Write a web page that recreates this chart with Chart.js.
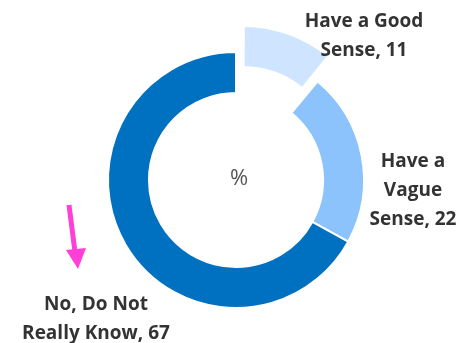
<!DOCTYPE html>
<html>
<head>
<meta charset="utf-8">
<script src="https://cdn.jsdelivr.net/npm/chart.js@4.4.1/dist/chart.umd.min.js"></script>
<style>
  html, body { margin: 0; padding: 0; background: #fff; }
  #wrap { width: 458px; height: 343px; }
</style>
</head>
<body>
<div id="wrap"><canvas id="donutChart"></canvas></div>
<script>
const categories = ["Have a Good Sense", "Have a Vague Sense", "No, Do Not Really Know"];
const values = [11, 22, 67];
const labelLines = [["Have a Good", "Sense, 11"], ["Have a", "Vague", "Sense, 22"], ["No, Do Not", "Really Know, 67"]];
const colors = ["#cfe5ff", "#8dc3fc", "#0070c0"];

/* label anchors (center of text block) */
const labelPos = [[364, 22], [413, 162], [96, 305]];

const labelsPlugin = {
    id: "outsideLabels",
    afterDraw(chart) {
        const ctx = chart.ctx;
        const meta = chart.getDatasetMeta(0);
        const c = meta.data[0];
        ctx.save();
        // center text
        ctx.fillStyle = "#555";
        ctx.font = "22px 'Open Sans', sans-serif";
        ctx.textAlign = "center";
        ctx.textBaseline = "middle";
        ctx.fillText("%", c.x + 3, c.y - 1);

        // slice labels
        ctx.fillStyle = "#333";
        ctx.font = "bold 19px 'Open Sans', sans-serif";
        labelLines.forEach((lines, i) => {
            const [x, y] = labelPos[i];
            lines.forEach((t, j) => ctx.fillText(t, x, y + j * 29));
        });

        // pink arrow
        ctx.strokeStyle = "#ff3fd8";
        ctx.fillStyle = "#ff3fd8";
        ctx.lineWidth = 5;
        ctx.beginPath();
        ctx.moveTo(69, 205);
        ctx.lineTo(75, 252);
        ctx.stroke();
        ctx.beginPath();
        ctx.moveTo(66, 250);
        ctx.lineTo(86, 248);
        ctx.lineTo(78, 269);
        ctx.closePath();
        ctx.fill();
        ctx.restore();
    }
};

new Chart(document.getElementById("donutChart"), {
    type: "doughnut",
    data: {
        labels: categories,
        datasets: [{
            data: values,
            backgroundColor: colors,
            borderColor: "#fff",
            borderWidth: 2,
            offset: [80, 0, 0]
        }]
    },
    options: {
        responsive: true,
        maintainAspectRatio: false,
        animation: false,
        radius: 128,
        cutout: "68%",
        layout: { padding: { left: 14, right: 0, top: 17, bottom: 0 } },
        plugins: {
            legend: { display: false },
            tooltip: { enabled: false }
        }
    },
    plugins: [labelsPlugin]
});
</script>
</body>
</html>
